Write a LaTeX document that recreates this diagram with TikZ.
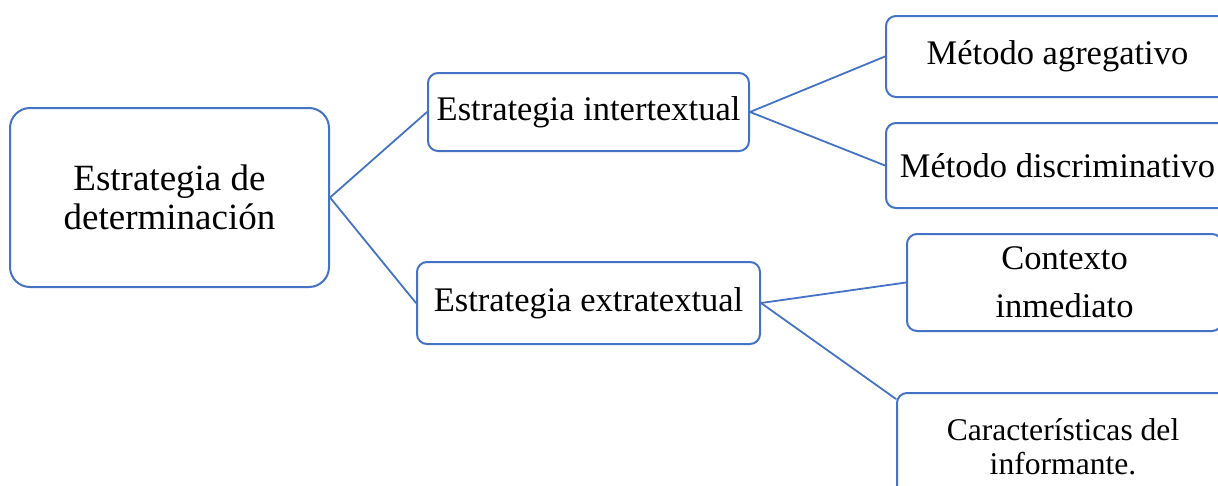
\documentclass[tikz,border=0pt]{standalone}
\usepackage{fontspec}
\setmainfont{Liberation Serif}
\definecolor{azul}{HTML}{4472C4}
\begin{document}
\begin{tikzpicture}[x=1pt,y=-1pt,line cap=round,line join=round]
	\useasboundingbox (0,0) rectangle (1218,485);
	\clip (0,0) rectangle (1218,485);
	\tikzset{caja/.style={draw=azul,line width=2pt,rounded corners=10pt,inner sep=0pt,align=center,font=\fontsize{34.5}{40}\selectfont},
		enlace/.style={draw=azul,line width=1.8pt}}
	\node[caja,rounded corners=20pt,minimum width=319pt,minimum height=179pt,font=\fontsize{37}{39}\selectfont] (raiz) at (169.5,197.5) {Estrategia de\\determinación};
	\node[caja,minimum width=321pt,minimum height=78pt] (inter) at (588.5,112) {Estrategia intertextual};
	\node[caja,minimum width=343pt,minimum height=82pt] (extra) at (588.5,303) {Estrategia extratextual};
	\node[caja,minimum width=343pt,minimum height=81pt] (agreg) at (1057.5,56.5) {Método agregativo};
	\node[caja,minimum width=343pt,minimum height=85pt] (discr) at (1057.5,165.5) {Método discriminativo};
	\node[caja,minimum width=315pt,minimum height=97pt,font=\fontsize{34.5}{48}\selectfont] (contx) at (1064.5,282.5) {Contexto\\inmediato};
	\node[caja,minimum width=332pt,minimum height=107pt,font=\fontsize{31.6}{34}\selectfont] (carac) at (1063,446.5) {Características del\\informante.};
	\foreach \a/\b in {raiz/inter,raiz/extra,inter/agreg,inter/discr,extra/contx}{\draw[enlace] (\a.east) -- (\b.west);}
	\draw[enlace] (extra.east) -- ([yshift=-7pt]carac.north west);
\end{tikzpicture}
\end{document}
